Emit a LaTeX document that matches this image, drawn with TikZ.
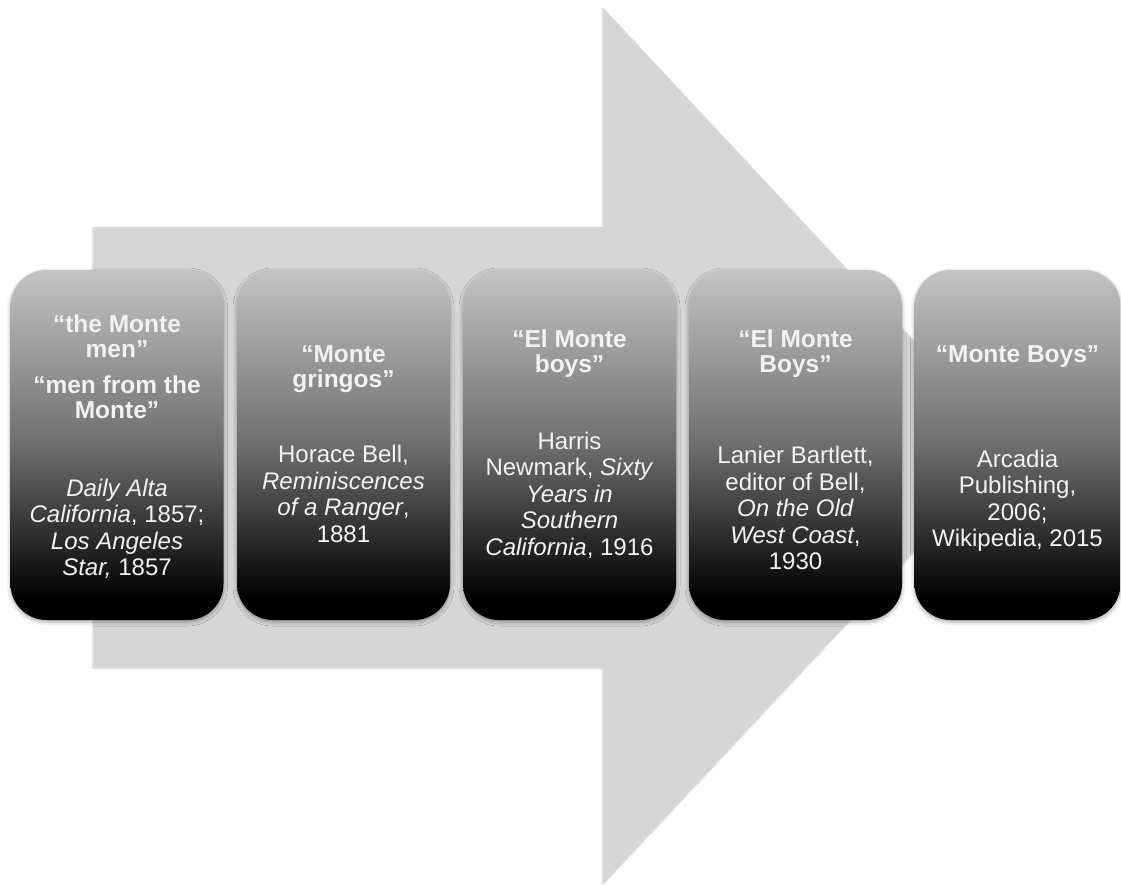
\documentclass[tikz,border=0pt]{standalone}
\usepackage{fontspec}
\setmainfont{Liberation Sans}
\usetikzlibrary{shadows.blur}
\definecolor{arrowgray}{HTML}{D6D6D6}
\definecolor{cardtop}{HTML}{C4C4C4}
\definecolor{cardmid}{HTML}{6E6E6E}
\pgfdeclareverticalshading{cardfade}{100bp}{color(0bp)=(black); color(28bp)=(black); color(50bp)=(cardmid); color(75bp)=(cardtop); color(100bp)=(cardtop)}
\tikzset{
  card/.style={shade, shading=cardfade, rounded corners=36pt, minimum width=213pt,
    minimum height=350pt, inner sep=0pt,
    blur shadow={shadow xshift=0pt, shadow yshift=-2pt, shadow blur radius=4pt, shadow opacity=35}},
  heading/.style={text=white!95!black, align=center, font=\fontsize{24.5}{25}\selectfont\bfseries},
  source/.style={text=white!95!black, align=center, font=\fontsize{24}{26.5}\selectfont}
}

\begin{document}
\begin{tikzpicture}[x=1pt,y=-1pt]
	\useasboundingbox (0,0) rectangle (1121,884);
	% big arrow in the back
	\fill[arrowgray, blur shadow={shadow xshift=0pt, shadow yshift=-1pt, shadow blur radius=2pt, shadow opacity=25}]
		(93,227) -- (603,227) -- (603,8) -- (1012,446) -- (603,883) -- (603,667) -- (93,667) -- cycle;
	%
	\node[card] (box1) at (117,445) {};
	\node[card] (box2) at (343.5,445) {};
	\node[card] (box3) at (569.5,445) {};
	\node[card] (box4) at (795.5,445) {};
	\node[card, minimum width=206pt] (box5) at (1017.5,445) {};
	%
	\node[heading] (name1) at (box1.center |- 0,367) {“the Monte\\men”\\[11pt]“men from the\\Monte”};
	\node[heading] (name2) at (box2.center |- 0,369) {“Monte\\gringos”};
	\node[heading] (name3) at (box3.center |- 0,354) {“El Monte\\boys”};
	\node[heading] (name4) at (box4.center |- 0,354) {“El Monte\\Boys”};
	\node[heading] (name5) at (box5.center |- 0,357) {“Monte Boys”};
	%
	\node[source] (src1) at (box1.center |- 0,529) {\textit{Daily Alta}\\\textit{California}, 1857;\\\textit{Los Angeles}\\\textit{Star,} 1857};
	\node[source] (src2) at (box2.center |- 0,494) {Horace Bell,\\\textit{Reminiscences}\\\textit{of a Ranger},\\1881};
	\node[source] (src3) at (box3.center |- 0,495) {Harris\\Newmark, \textit{Sixty}\\\textit{Years in}\\\textit{Southern}\\\textit{California}, 1916};
	\node[source] (src4) at (box4.center |- 0,508) {Lanier Bartlett,\\editor of Bell,\\\textit{On the Old}\\\textit{West Coast},\\1930};
	\node[source] (src5) at (box5.center |- 0,501) {Arcadia\\Publishing,\\2006;\\Wikipedia, 2015};
\end{tikzpicture}
\end{document}
